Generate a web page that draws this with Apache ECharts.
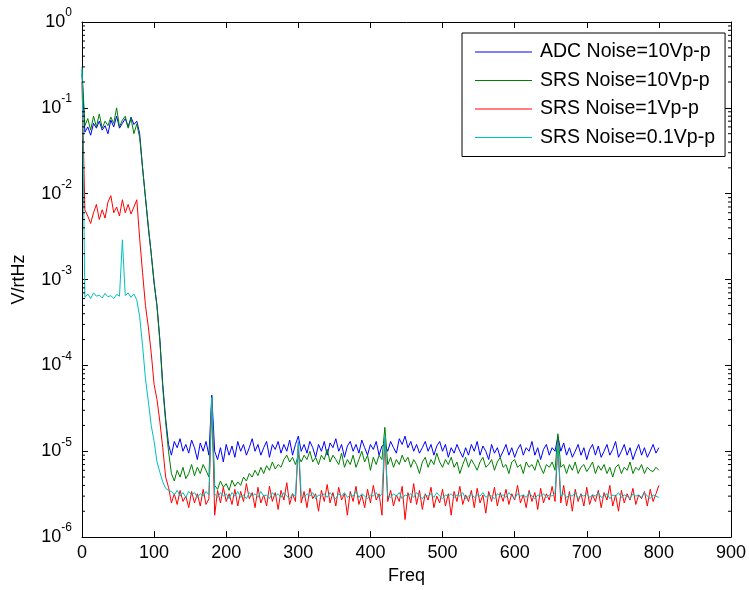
<!DOCTYPE html>
<html><head><meta charset="utf-8">
<script src="https://cdn.jsdelivr.net/npm/echarts@6/dist/echarts.min.js"></script>
<style>html,body{margin:0;padding:0;background:#fff}#c{width:749px;height:590px}</style>
</head><body><div id="c"></div>
<script>
// ---------- data (values in microvolts / rtHz, sampled every 4 Hz, 0..800) ----------
const seriesNames = ['ADC Noise=10Vp-p', 'SRS Noise=10Vp-p', 'SRS Noise=1Vp-p', 'SRS Noise=0.1Vp-p'];
const seriesColors = ['#0000FF', '#008000', '#FF0000', '#00BFBF'];
const xTickValues = [0, 100, 200, 300, 400, 500, 600, 700, 800, 900];
const yTickValues = [1e-6, 1e-5, 1e-4, 1e-3, 1e-2, 1e-1, 1];
const freqStep = 4;

const adc10 = [
  250000, 52000, 60000, 48000, 66000, 58000, 70000, 55000, 62000, 50000, // 0-36
  72000, 60000, 80000, 58000, 66000, 75000, 60000, 78000, 64000, 70000,  // 40-76
  50000, 20000, 9000, 4000, 2000, 900, 500, 200, 60, 24,                 // 80-116
  12, 9, 13, 11, 14, 10, 12, 9.5, 13.5, 11,       // 120-156
  8, 12.5, 10, 13, 9, 45, 10, 8, 11, 7.5,         // 160-196
  12, 9, 11.5, 8.5, 13, 10, 12, 9, 11, 14,        // 200-236
  10, 12, 9, 11, 13, 8.5, 12, 10.5, 13, 9.5,      // 240-276
  12, 10, 13.5, 9, 12, 15, 10, 12, 9.5, 13,       // 280-316
  11, 8.5, 12, 10, 13, 9, 12.5, 11, 14, 10,       // 320-356
  12, 8.5, 11.5, 13, 10, 12, 9.5, 13.5, 11, 9,    // 360-396
  12, 10.5, 13, 9, 11.5, 12, 10, 13, 11, 9.5,     // 400-436
  14, 12, 15, 11, 13, 10, 12, 9.5, 11, 13,        // 440-476
  10, 12, 9, 11.5, 13, 10, 12, 8.5, 11, 9.5,      // 480-516
  12, 10, 8.5, 11, 9, 12, 10, 13, 9, 11.5,        // 520-556
  10, 8, 12, 9.5, 11, 8.5, 10, 12, 9, 11,         // 560-596
  8.5, 10.5, 12, 9, 11, 10, 13, 9, 11, 8,         // 600-636
  10.5, 12, 9, 11, 10, 15, 10, 12.5, 9, 11,       // 640-676
  8.5, 10, 12, 9, 11, 8, 10.5, 12, 9, 11.5,       // 680-716
  8.5, 10, 12, 9, 10.5, 13, 8.5, 10, 12, 9,       // 720-756
  11, 8, 10, 12, 9, 11, 8.5, 10, 12, 9.5,         // 760-796
  11                                              // 800
];
const srs10 = [
  280000, 62000, 75000, 55000, 80000, 60000, 85000, 58000, 70000, 62000,
  78000, 66000, 100000, 60000, 72000, 80000, 58000, 75000, 50000, 65000,
  45000, 20000, 9000, 4200, 2000, 950, 480, 190, 55, 22,
  10, 5.5, 4.5, 6, 5, 6.5, 4.8, 5.5, 7, 5.2,
  6.5, 5.5, 7, 6, 5, 42, 4, 3.6, 4.5, 3.8,
  4.2, 3.5, 4.6, 3.9, 4.4, 4, 5, 4.5, 5.5, 5,
  6, 5.2, 6.5, 5.5, 6.8, 6, 7.5, 6.2, 7, 6.5,
  8, 9, 7.5, 8.5, 7, 9, 7.5, 9, 8, 10,
  7.5, 8.5, 7, 9, 8, 10.5, 7.5, 9, 8, 7,
  9.5, 6.5, 8, 7, 9, 6.5, 8, 10, 7.5, 9,
  6, 8.5, 7, 9, 8, 19, 7, 8.5, 6.5, 8,
  7, 9, 7.5, 8.5, 6.5, 8, 7, 5.5, 7.5, 8.5,
  6.5, 8, 7, 9.5, 7.5, 6.5, 8, 7, 8.5, 6.5,
  7.5, 5.5, 7, 8.5, 6.5, 8, 7, 6, 7.5, 8.5,
  6.5, 7, 8, 6, 7.5, 8.5, 6.5, 7, 5.5, 7.5,
  8, 6.5, 7, 5.5, 7.5, 6.5, 7, 6, 8, 6.5,
  5.5, 7, 6.5, 7.5, 6, 16, 6.5, 7, 5.5, 7,
  6, 7.5, 5.5, 6.5, 7, 5.8, 6.5, 7.5, 5.5, 6.8,
  6, 7, 5.5, 6.5, 5, 6.5, 7, 5.5, 6.5, 6,
  7.5, 5.5, 6.5, 6, 7, 5.5, 6.5, 6, 5.8, 6.5,
  6
];
const srs1 = [
  200000, 6500, 5500, 4500, 6000, 7500, 5000, 6500, 5200, 8000,
  9500, 6000, 7000, 5500, 8500, 6000, 7500, 5800, 7000, 8500,
  3000, 1200, 500, 280, 140, 60, 40, 22, 11, 5,
  3.8, 2.5, 3.2, 2.4, 3.5, 2.6, 3, 2.2, 3.4, 2.5,
  3.2, 2.3, 3.6, 2.4, 2.8, 40, 1.8, 3.5, 2.5, 3.8,
  2.6, 3.2, 2.4, 3.6, 2.3, 3.4, 2.6, 4.2, 2.8, 3.3,
  2.2, 3.8, 2.5, 3.1, 2.3, 3.9, 2.6, 3.3, 2.1, 3.5,
  2.7, 4.3, 2.4, 3.2, 2.6, 12, 2.5, 3.4, 2.2, 3.7,
  2.8, 3.2, 2, 3.5, 2.6, 4.1, 2.5, 3.3, 2.3, 3.8,
  2.7, 3.2, 1.8, 3.4, 2.6, 3.9, 2.4, 3.1, 2.2, 3.6,
  2.5, 4, 2.7, 3.2, 1.8, 14, 2.6, 3.5, 2.3, 3.1,
  2.6, 3.9, 1.6, 3.3, 2.5, 4.2, 2.4, 3.5, 2.1, 3.2,
  2.7, 3.8, 2.2, 3, 2.5, 3.6, 2.3, 3.2, 1.8, 3.4,
  2.6, 3.9, 2.4, 3.1, 2.6, 3.5, 2.2, 3.7, 2.5, 3.1,
  1.9, 3.4, 2.6, 3.8, 2.3, 3.3, 2.6, 3.6, 2.4, 3.2,
  2.7, 4, 2.5, 3.1, 2.2, 3.5, 2.6, 3.3, 2.1, 3.7,
  2.5, 3.2, 2.7, 3.9, 2.6, 12, 2.5, 4, 2.3, 3.4,
  2, 3.6, 2.6, 3.2, 2.3, 3.8, 2.4, 3.1, 2.6, 3.5,
  2.2, 3.3, 2.7, 4, 2.3, 3.1, 2, 3.5, 2.5, 3.2,
  2.7, 3.7, 2.4, 3.1, 2.8, 3.4, 2.3, 3.6, 2.6, 3.2,
  4
];
const srs01 = [
  300000, 620, 680, 600, 700, 640, 660, 610, 690, 630,
  650, 600, 670, 640, 2900, 650, 700, 620, 680, 580,
  370, 170, 70, 38, 20, 13, 7.5, 5.7, 4.4, 3.7,
  3.5, 3.4, 3.1, 3.5, 3, 3.3, 2.9, 3.4, 3.1, 3.3,
  2.9, 3.2, 3, 3.4, 3.1, 42, 3.2, 2.9, 3.3, 3,
  3.2, 2.8, 3.3, 3, 3.4, 2.9, 3.1, 2.8, 3.3, 3,
  3.2, 2.9, 3.4, 3, 3.1, 2.8, 3.3, 3, 3.2, 2.9,
  3.3, 3, 2.8, 3.2, 3, 13, 3.1, 2.9, 3.2, 3,
  3.3, 2.8, 3.1, 3, 3.2, 2.9, 3.3, 3, 2.8, 3.2,
  3, 3.3, 2.9, 3.1, 3, 3.4, 2.9, 3.2, 3, 2.8,
  3.1, 3, 3.3, 2.9, 3.2, 15, 3, 2.9, 3.2, 3,
  3.3, 2.8, 3.1, 3, 3.2, 2.9, 3.3, 3, 2.8, 3.1,
  3, 3.2, 2.9, 3.3, 3, 2.8, 3.1, 3, 3.2, 2.9,
  3.1, 3, 3.3, 2.8, 3, 3.2, 2.9, 3.1, 3, 3.3,
  2.9, 3.1, 3, 2.8, 3.2, 3, 3.1, 2.9, 3.3, 3,
  2.8, 3.2, 3, 3.1, 2.9, 3.3, 3, 2.8, 3.1, 3,
  3.2, 2.9, 3.1, 3, 3.3, 12, 3, 3.2, 2.9, 3.1,
  3, 3.3, 2.8, 3.1, 3, 3.2, 2.9, 3.1, 3, 3.3,
  2.9, 3, 3.2, 2.8, 3.1, 3, 3.3, 2.9, 3.1, 3,
  2.8, 3.2, 3, 3.1, 2.9, 3.3, 3, 2.8, 3.1, 3,
  2.9
];
const allValues = [adc10, srs10, srs1, srs01];

// ---------- chart ----------
const FONT = '"Liberation Sans", Arial, sans-serif';
const chart = echarts.init(document.getElementById('c'), null, { renderer: 'canvas' });

function toData(vals) {
  return vals.map((v, i) => [i * freqStep, v * 1e-6]);
}
function powLabel(v) {
  const e = Math.round(Math.log10(v));
  return '{b|10}{s|' + e + '}';
}
const axisLineStyle = { color: '#000', width: 1 };

const option = {
  animation: false,
  backgroundColor: '#fff',
  textStyle: { fontFamily: FONT },
  grid: { left: 82, right: 17, top: 22, bottom: 52, containLabel: false },
  legend: {
    orient: 'vertical', left: 462, top: 33,
    backgroundColor: '#fff', borderColor: '#000', borderWidth: 1, borderRadius: 0,
    padding: [9, 10, 9, 13], itemGap: 8.5, itemWidth: 57, itemHeight: 1.2,
    icon: 'rect', selectedMode: false,
    textStyle: { fontSize: 19.5, lineHeight: 18, fontFamily: FONT, color: '#000', padding: [0, 0, 0, 3] },
    data: seriesNames
  },
  xAxis: [{
    type: 'value', min: 0, max: 900, interval: 100, position: 'bottom',
    name: 'Freq', nameLocation: 'middle', nameGap: 29,
    nameTextStyle: { fontSize: 18, fontFamily: FONT, color: '#000' },
    axisLine: { show: true, onZero: false, lineStyle: axisLineStyle },
    axisTick: { show: true, inside: true, length: 6, lineStyle: axisLineStyle },
    axisLabel: { show: true, margin: 7, fontSize: 18, fontFamily: FONT, color: '#000',
      formatter: v => xTickValues.includes(v) ? String(v) : '' },
    splitLine: { show: false }
  }, {
    type: 'value', min: 0, max: 900, interval: 100, position: 'top',
    axisLine: { show: true, onZero: false, lineStyle: axisLineStyle },
    axisTick: { show: true, inside: true, length: 6, lineStyle: axisLineStyle },
    axisLabel: { show: false }, splitLine: { show: false }
  }],
  yAxis: [{
    type: 'log', logBase: 10, min: 1e-6, max: 1, splitNumber: 6, position: 'left',
    name: 'V/rtHz', nameLocation: 'middle', nameGap: 54, nameRotate: 90,
    nameTextStyle: { fontSize: 18, fontFamily: FONT, color: '#000' },
    axisLine: { show: true, onZero: false, lineStyle: axisLineStyle },
    axisTick: { show: true, inside: true, length: 6, lineStyle: axisLineStyle },
    axisLabel: {
      show: true, margin: 10, color: '#000', fontFamily: FONT,
      formatter: v => powLabel(v),
      rich: {
        b: { fontSize: 18, lineHeight: 30, verticalAlign: 'middle', fontFamily: FONT, color: '#000' },
        s: { fontSize: 12, lineHeight: 12, verticalAlign: 'top', fontFamily: FONT, color: '#000' }
      }
    },
    splitLine: { show: false }
  }, {
    type: 'log', logBase: 10, min: 1e-6, max: 1, splitNumber: 6, position: 'right',
    axisLine: { show: true, onZero: false, lineStyle: axisLineStyle },
    axisTick: { show: true, inside: true, length: 6, lineStyle: axisLineStyle },
    axisLabel: { show: false }, splitLine: { show: false }
  }],
  series: allValues.map((vals, k) => ({
    name: seriesNames[k], type: 'line', xAxisIndex: 0, yAxisIndex: 0,
    data: toData(vals), symbol: 'none', showSymbol: false,
    lineStyle: { width: 1, color: seriesColors[k] }, itemStyle: { color: seriesColors[k] },
    z: 2 + k, silent: true
  }))
};
chart.setOption(option);

// minor ticks on the log axes (positions computed from the chart's own scale)
const xl = chart.convertToPixel({ xAxisIndex: 0 }, 0);
const xr = chart.convertToPixel({ xAxisIndex: 0 }, 900);
const minor = [];
for (let e = -6; e < 0; e++) {
  for (let m = 2; m <= 9; m++) {
    const y = chart.convertToPixel({ yAxisIndex: 0 }, m * Math.pow(10, e));
    minor.push({ type: 'line', shape: { x1: xl, y1: y, x2: xl + 3, y2: y }, style: { stroke: '#000', lineWidth: 1 }, silent: true, z: 10 });
    minor.push({ type: 'line', shape: { x1: xr - 3, y1: y, x2: xr, y2: y }, style: { stroke: '#000', lineWidth: 1 }, silent: true, z: 10 });
  }
}
chart.setOption({ graphic: { elements: minor } });
</script>
</body></html>
